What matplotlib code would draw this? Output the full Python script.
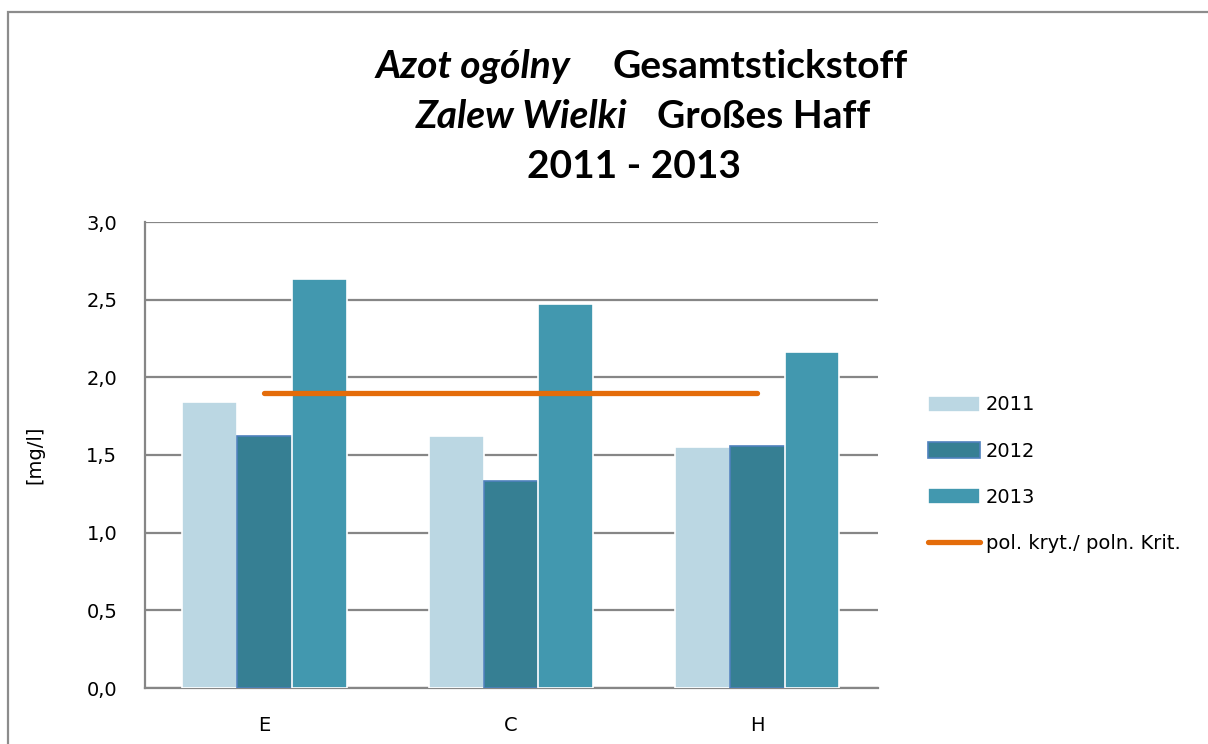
import matplotlib
matplotlib.use("Agg")
import matplotlib.pyplot as plt
import numpy as np
from matplotlib.patches import Rectangle

# data
stations = ["E", "C", "H"]
years = ["2011", "2012", "2013"]
vals_2011 = [1.84, 1.62, 1.55]
vals_2012 = [1.62, 1.33, 1.56]
vals_2013 = [2.63, 2.47, 2.16]
threshold = [1.90, 1.90, 1.90]
threshold_label = "pol. kryt./ poln. Krit."
yticks = [0.0, 0.5, 1.0, 1.5, 2.0, 2.5, 3.0]

colors = ["#BBD7E3", "#367F93", "#4298AF"]
orange = "#E46C0A"
grid_col = "#868686"

plt.rcParams["font.family"] = ["DejaVu Sans"]

W, H = 1208, 744
fig = plt.figure(figsize=(W / 100, H / 100), dpi=100)
ax = fig.add_axes([145 / W, 1 - 688 / H, (878 - 145) / W, (688 - 222) / H])

x = np.arange(len(stations))
bw = 0.222
handles = []
for k, (vals, col) in enumerate(zip([vals_2011, vals_2012, vals_2013], colors)):
    ec = "#4F81BD" if k == 1 else "white"
    b = ax.bar(x + (k - 1) * bw, vals, bw, color=col, edgecolor=ec, linewidth=1.2,
               label=years[k], zorder=3)
    handles.append(b)
ln, = ax.plot(x, threshold, color=orange, linewidth=3.8, solid_capstyle="round",
              label=threshold_label, zorder=4)
handles.append(ln)

ax.set_xlim(-0.485, 2.49)
ax.set_ylim(0, 3.0)
ax.set_yticks(yticks)
ax.set_yticklabels([f"{v:.1f}".replace(".", ",") for v in yticks])
ax.set_xticks(x)
ax.set_xticklabels(stations)
ax.tick_params(axis="both", length=0, labelsize=14, colors="black")
ax.tick_params(axis="y", pad=20)
ax.tick_params(axis="x", pad=20)
ax.yaxis.grid(True, color=grid_col, linewidth=1.6, zorder=0)
ax.set_axisbelow(True)
for s in ["top", "right"]:
    ax.spines[s].set_visible(False)
for s in ["left", "bottom"]:
    ax.spines[s].set_color(grid_col)
    ax.spines[s].set_linewidth(1.6)
ax.set_ylabel("[mg/l]", fontsize=14, labelpad=30)

# titles
tf = ["Lato", "DejaVu Sans"]
def ty(py):
    return 1 - py / H
fs = 28
fig.text(570 / W, ty(67), "Azot ogólny", ha="right", va="center", fontsize=fs,
         fontweight="bold", style="italic", family=tf)
fig.text(612 / W, ty(67), "Gesamtstickstoff", ha="left", va="center", fontsize=fs,
         fontweight="bold", family=tf)
fig.text(627 / W, ty(117), "Zalew Wielki", ha="right", va="center", fontsize=fs,
         fontweight="bold", style="italic", family=tf)
fig.text(657 / W, ty(117), "Großes Haff", ha="left", va="center", fontsize=fs,
         fontweight="bold", family=tf)
fig.text(634 / W, ty(167), "2011 - 2013", ha="center", va="center", fontsize=fs,
         fontweight="bold", family=tf)

fig.legend(handles=handles, labels=years + [threshold_label],
           loc="upper left", bbox_to_anchor=(910 / W, 1 - 378 / H), frameon=False,
           fontsize=14, handlelength=2.7, handleheight=0.9, labelspacing=1.4,
           handletextpad=0.3)

# outer chart frame
fig.patches.append(Rectangle((8 / W, -0.1), 1.2, 1 - 12 / H + 0.1,
                             transform=fig.transFigure, fill=False,
                             edgecolor="#8C8C8C", linewidth=1.6))

fig.savefig("out.png", dpi=100)
